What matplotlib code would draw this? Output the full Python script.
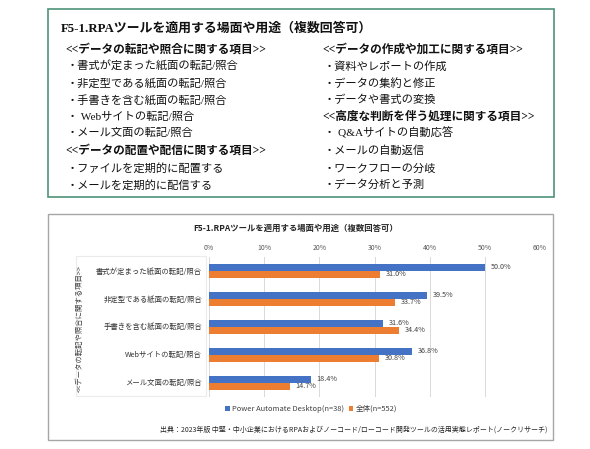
import matplotlib
matplotlib.use('Agg')
import matplotlib.pyplot as plt
from matplotlib.patches import Rectangle
import numpy as np

plt.rcParams['font.family'] = ['Noto Sans CJK JP', 'DejaVu Sans']

# chart data
categories = ['書式が定まった紙面の転記/照合', '非定型である紙面の転記/照合',
              '手書きを含む紙面の転記/照合', 'Webサイトの転記/照合',
              'メール文面の転記/照合']
pad_values = [50.0, 39.5, 31.6, 36.8, 18.4]
all_values = [31.0, 33.7, 34.4, 30.8, 14.7]
series_names = ['Power Automate Desktop(n=38)', '全体(n=552)']
x_ticks = [0, 10, 20, 30, 40, 50, 60]

# text box contents
box_title = 'F5-1.RPAツールを適用する場面や用途（複数回答可）'
left_lines = [('h', '<<データの転記や照合に関する項目>>'),
              ('i', '・書式が定まった紙面の転記/照合'),
              ('i', '・非定型である紙面の転記/照合'),
              ('i', '・手書きを含む紙面の転記/照合'),
              ('i', '・ Webサイトの転記/照合'),
              ('i', '・メール文面の転記/照合'),
              ('h', '<<データの配置や配信に関する項目>>'),
              ('i', '・ファイルを定期的に配置する'),
              ('i', '・メールを定期的に配信する')]
right_lines = [('h', '<<データの作成や加工に関する項目>>'),
               ('i', '・資料やレポートの作成'),
               ('i', '・データの集約と修正'),
               ('i', '・データや書式の変換'),
               ('h', '<<高度な判断を伴う処理に関する項目>>'),
               ('i', '・ Q&Aサイトの自動応答'),
               ('i', '・メールの自動返信'),
               ('i', '・ワークフローの分岐'),
               ('i', '・データ分析と予測')]
source = '出典：2023年版 中堅・中小企業におけるRPAおよびノーコード/ローコード開発ツールの活用実態レポート(ノークリサーチ)'

W, H = 590, 449
fig = plt.figure(figsize=(W / 100, H / 100), dpi=100)


def fx(x):
    return x / W


def fy(y):
    return 1 - y / H


serif_jp = ['Liberation Serif', 'Noto Sans CJK JP']

# upper text box
fig.add_artist(Rectangle((fx(48), fy(197)), fx(554) - fx(48), fy(9) - fy(197),
                         transform=fig.transFigure, fill=False,
                         edgecolor='#4F9479', linewidth=1.2))
fig.text(fx(61), fy(28), box_title, fontsize=9.3, fontweight='bold',
         family=serif_jp, va='center', ha='left', color='#111111')
rows_y = [49.3, 66, 83.3, 100, 116.7, 133, 150.7, 168.3, 185]
for col_x, lines in ((65, left_lines), (322, right_lines)):
    for (kind, txt), yy in zip(lines, rows_y):
        if kind == 'h':
            fig.text(fx(col_x), fy(yy), txt, fontsize=8.4, fontweight='bold',
                     family=serif_jp, va='center', ha='left', color='#111111')
        else:
            fig.text(fx(col_x + 2), fy(yy), txt, fontsize=8.1, family=serif_jp,
                     va='center', ha='left', color='#111111')

# chart frame
fig.add_artist(Rectangle((fx(48), fy(440)), fx(553) - fx(48), fy(214) - fy(440),
                         transform=fig.transFigure, fill=False,
                         edgecolor='#A6A6A6', linewidth=1.0))
fig.add_artist(Rectangle((fx(76), fy(396)), fx(206) - fx(76), fy(256) - fy(396),
                         transform=fig.transFigure, fill=False,
                         edgecolor='#EBEBEB', linewidth=0.8))
fig.text(fx(296), fy(228), box_title, fontsize=6, fontweight='bold',
         ha='center', va='center', color='#262626')

ax = fig.add_axes([fx(209), fy(396.5), fx(540) - fx(209), fy(256.5) - fy(396.5)])
y = np.arange(len(categories))
h = 0.25
b1 = ax.barh(y - h / 2, pad_values, height=h, color='#4472C4', label=series_names[0])
b2 = ax.barh(y + h / 2, all_values, height=h, color='#ED7D31', label=series_names[1])
ax.bar_label(b1, fmt='%.1f%%', padding=4, fontsize=5.2, color='#404040')
ax.bar_label(b2, fmt='%.1f%%', padding=4, fontsize=5.2, color='#404040')

ax.set_xlim(0, 60)
ax.set_ylim(len(categories) - 0.5, -0.5)
ax.set_xticks(x_ticks)
ax.set_xticklabels([f'{t}%' for t in x_ticks])
ax.xaxis.tick_top()
ax.tick_params(axis='x', length=0, pad=3.5, labelsize=5, labelcolor='#595959')
ax.set_yticks(y)
ax.set_yticklabels(categories)
ax.tick_params(axis='y', length=0, pad=5, labelsize=5.3, labelcolor='#333333')
ax.grid(axis='x', color='#D9D9D9', linewidth=0.7)
ax.set_axisbelow(True)
for s in ax.spines.values():
    s.set_visible(False)

fig.text(fx(80), fy(328), '<<データの転記や照合に関する項目>>', rotation=90,
         fontsize=5.3, ha='center', va='center', color='#404040')

fig.legend(handles=[b1, b2], loc='center', bbox_to_anchor=(fx(311), fy(409)),
           ncol=2, frameon=False, fontsize=5.4, handlelength=0.6, handleheight=0.6,
           handletextpad=0.3, columnspacing=0.6, labelcolor='#404040')

fig.text(fx(160), fy(430), source, fontsize=5, ha='left', va='center',
         color='#262626')

fig.savefig('out.png', dpi=100)
